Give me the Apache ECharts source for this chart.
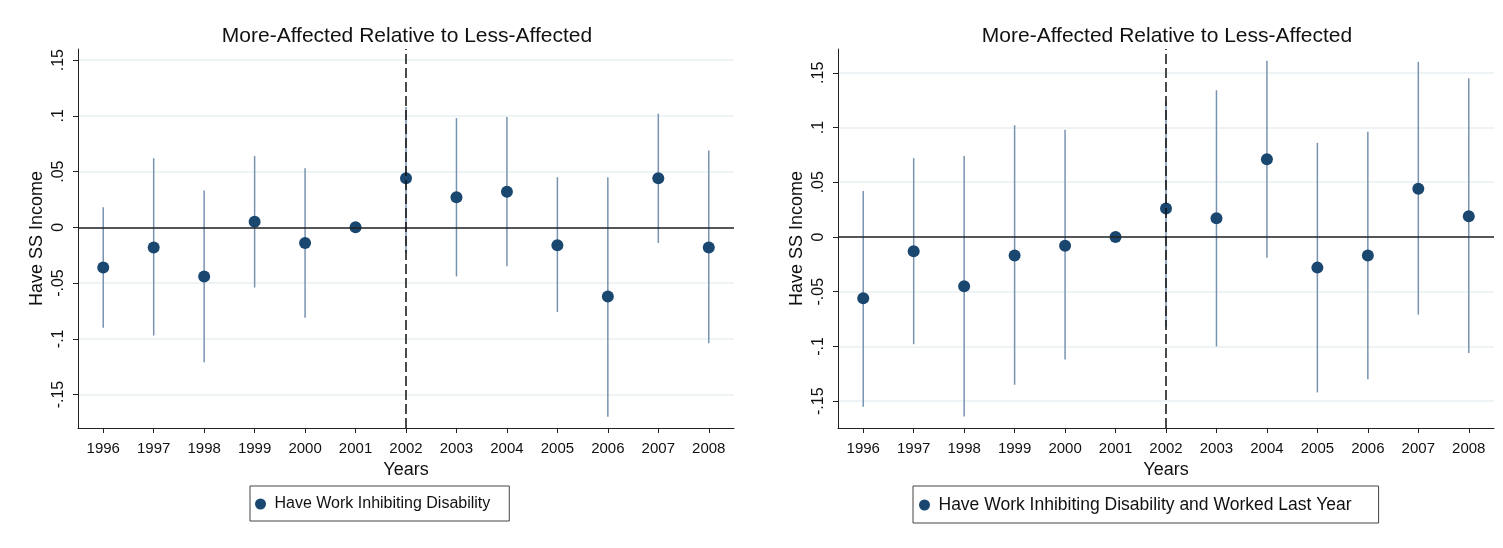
<!DOCTYPE html>
<html>
<head>
<meta charset="utf-8">
<script src="https://cdn.jsdelivr.net/npm/echarts@6/dist/echarts.min.js"></script>
<style>
  html, body { margin: 0; padding: 0; background: #ffffff; }
  #chart { width: 1503px; height: 548px; }
</style>
</head>
<body>
<div id="chart"></div>
<script>
// Event-study estimates: more-affected vs. less-affected, by survey year
const years = ['1996','1997','1998','1999','2000','2001','2002','2003','2004','2005','2006','2007','2008'];
const yTicks = [-0.15, -0.1, -0.05, 0, 0.05, 0.1, 0.15];
const yTickLabels = ['-.15', '-.1', '-.05', '0', '.05', '.1', '.15'];

// Panel 1: Have Work Inhibiting Disability
const disEst   = [-0.036, -0.018, -0.044, 0.005, -0.014, 0, 0.044, 0.027, 0.032, -0.016, -0.062, 0.044, -0.018];
const disLower = [-0.090, -0.097, -0.121, -0.054, -0.081, null, -0.023, -0.044, -0.035, -0.076, -0.170, -0.014, -0.104];
const disUpper = [0.018, 0.062, 0.033, 0.064, 0.053, null, 0.108, 0.098, 0.099, 0.045, 0.045, 0.102, 0.069];

// Panel 2: Have Work Inhibiting Disability and Worked Last Year
const wrkEst   = [-0.056, -0.013, -0.045, -0.017, -0.008, 0, 0.026, 0.017, 0.071, -0.028, -0.017, 0.044, 0.019];
const wrkLower = [-0.155, -0.098, -0.164, -0.135, -0.112, null, -0.082, -0.100, -0.019, -0.142, -0.130, -0.071, -0.106];
const wrkUpper = [0.042, 0.072, 0.074, 0.102, 0.098, null, 0.124, 0.134, 0.161, 0.086, 0.096, 0.160, 0.145];

const panelTitle = 'More-Affected Relative to Less-Affected';
const xName = 'Years';
const yName = 'Have SS Income';
const seriesNames = ['Have Work Inhibiting Disability', 'Have Work Inhibiting Disability and Worked Last Year'];
const eventYear = '2002';

const FONT = 'Liberation Sans, Arial, sans-serif';
const NAVY = '#1a476f';
const CI_COLOR = '#7893b0';
const GRID_COLOR = '#e9f1f3';

function ciData(lower, upper) {
  return years.map((y, i) => lower[i] == null ? null : [i, lower[i], upper[i]]);
}

function renderCI(params, api) {
  if (api.value(1) == null || isNaN(api.value(1))) return null;
  const x = api.value(0);
  const a = api.coord([x, api.value(1)]);
  const b = api.coord([x, api.value(2)]);
  return {
    type: 'line',
    shape: { x1: a[0], y1: a[1], x2: b[0], y2: b[1] },
    style: { stroke: CI_COLOR, lineWidth: 1.5 }
  };
}

function makeXAxis(gridIndex) {
  return {
    type: 'category', gridIndex, data: years, boundaryGap: true,
    name: xName, nameLocation: 'middle', nameGap: 29,
    nameTextStyle: { fontFamily: FONT, fontSize: 18, color: '#111' },
    axisLine: { show: true, onZero: false, lineStyle: { color: '#222', width: 1 } },
    axisTick: { show: true, alignWithLabel: true, length: 5, lineStyle: { color: '#222' } },
    axisLabel: { fontFamily: FONT, fontSize: 15, color: '#111', margin: 13, interval: 0 },
    splitLine: { show: false }
  };
}

function makeYAxis(gridIndex, min, max) {
  return {
    type: 'value', gridIndex, min, max,
    name: yName, nameLocation: 'middle', nameGap: 32, nameRotate: 90,
    nameTextStyle: { fontFamily: FONT, fontSize: 18, color: '#111' },
    axisLine: { show: true, onZero: false, lineStyle: { color: '#222', width: 1 } },
    axisTick: { show: true, length: 5, customValues: yTicks, lineStyle: { color: '#222' } },
    axisLabel: {
      fontFamily: FONT, fontSize: 16, color: '#111', rotate: 90, margin: 11,
      customValues: yTicks,
      formatter: v => {
        const i = yTicks.findIndex(t => Math.abs(t - v) < 1e-9);
        return i >= 0 ? yTickLabels[i] : '';
      }
    },
    splitLine: { show: true, lineStyle: { color: GRID_COLOR, width: 1.5 } }
  };
}

// Zero reference line and the dashed event-year marker
function refLines() {
  return {
    silent: true, symbol: 'none', animation: false,
    label: { show: false },
    data: [
      { yAxis: 0, lineStyle: { color: '#222', width: 1.6, type: 'solid' } },
      { xAxis: eventYear, lineStyle: { color: '#111', width: 1.5, type: [10, 4] } }
    ]
  };
}

function legendFor(name, left, padding, fontSize) {
  return {
    data: [name], left, top: 486, orient: 'horizontal',
    padding, itemWidth: 18, itemHeight: 11, icon: 'circle',
    borderColor: '#444', borderWidth: 1, borderRadius: 0,
    textStyle: { fontFamily: FONT, fontSize, color: '#111' }
  };
}

const option = {
  backgroundColor: '#ffffff',
  animation: false,
  title: [
    { text: panelTitle, left: 402, top: 21, textAlign: 'center',
      textStyle: { fontFamily: FONT, fontSize: 21, fontWeight: 'normal', color: '#111' } },
    { text: panelTitle, left: 1162, top: 21, textAlign: 'center',
      textStyle: { fontFamily: FONT, fontSize: 21, fontWeight: 'normal', color: '#111' } }
  ],
  grid: [
    { left: 78, top: 49, width: 656, height: 379 },
    { left: 838, top: 49, width: 656, height: 379 }
  ],
  xAxis: [makeXAxis(0), makeXAxis(1)],
  yAxis: [makeYAxis(0, -0.18, 0.16), makeYAxis(1, -0.1745, 0.1717)],
  legend: [
    legendFor(seriesNames[0], 250, [10, 19, 9, 5], 16),
    legendFor(seriesNames[1], 913, [10, 27, 9, 6], 17.5)
  ],
  series: [
    { type: 'custom', name: 'ci-1', xAxisIndex: 0, yAxisIndex: 0, z: 2,
      data: ciData(disLower, disUpper), renderItem: renderCI },
    { type: 'scatter', name: 'ref-1', xAxisIndex: 0, yAxisIndex: 0, z: 3,
      data: [], markLine: refLines() },
    { type: 'scatter', name: seriesNames[0], xAxisIndex: 0, yAxisIndex: 0, z: 4,
      data: disEst, symbol: 'circle', symbolSize: 12, itemStyle: { color: NAVY, opacity: 1 } },
    { type: 'custom', name: 'ci-2', xAxisIndex: 1, yAxisIndex: 1, z: 2,
      data: ciData(wrkLower, wrkUpper), renderItem: renderCI },
    { type: 'scatter', name: 'ref-2', xAxisIndex: 1, yAxisIndex: 1, z: 3,
      data: [], markLine: refLines() },
    { type: 'scatter', name: seriesNames[1], xAxisIndex: 1, yAxisIndex: 1, z: 4,
      data: wrkEst, symbol: 'circle', symbolSize: 12, itemStyle: { color: NAVY, opacity: 1 } }
  ]
};

const chart = echarts.init(document.getElementById('chart'), null, { renderer: 'canvas' });
chart.setOption(option);
</script>
</body>
</html>
